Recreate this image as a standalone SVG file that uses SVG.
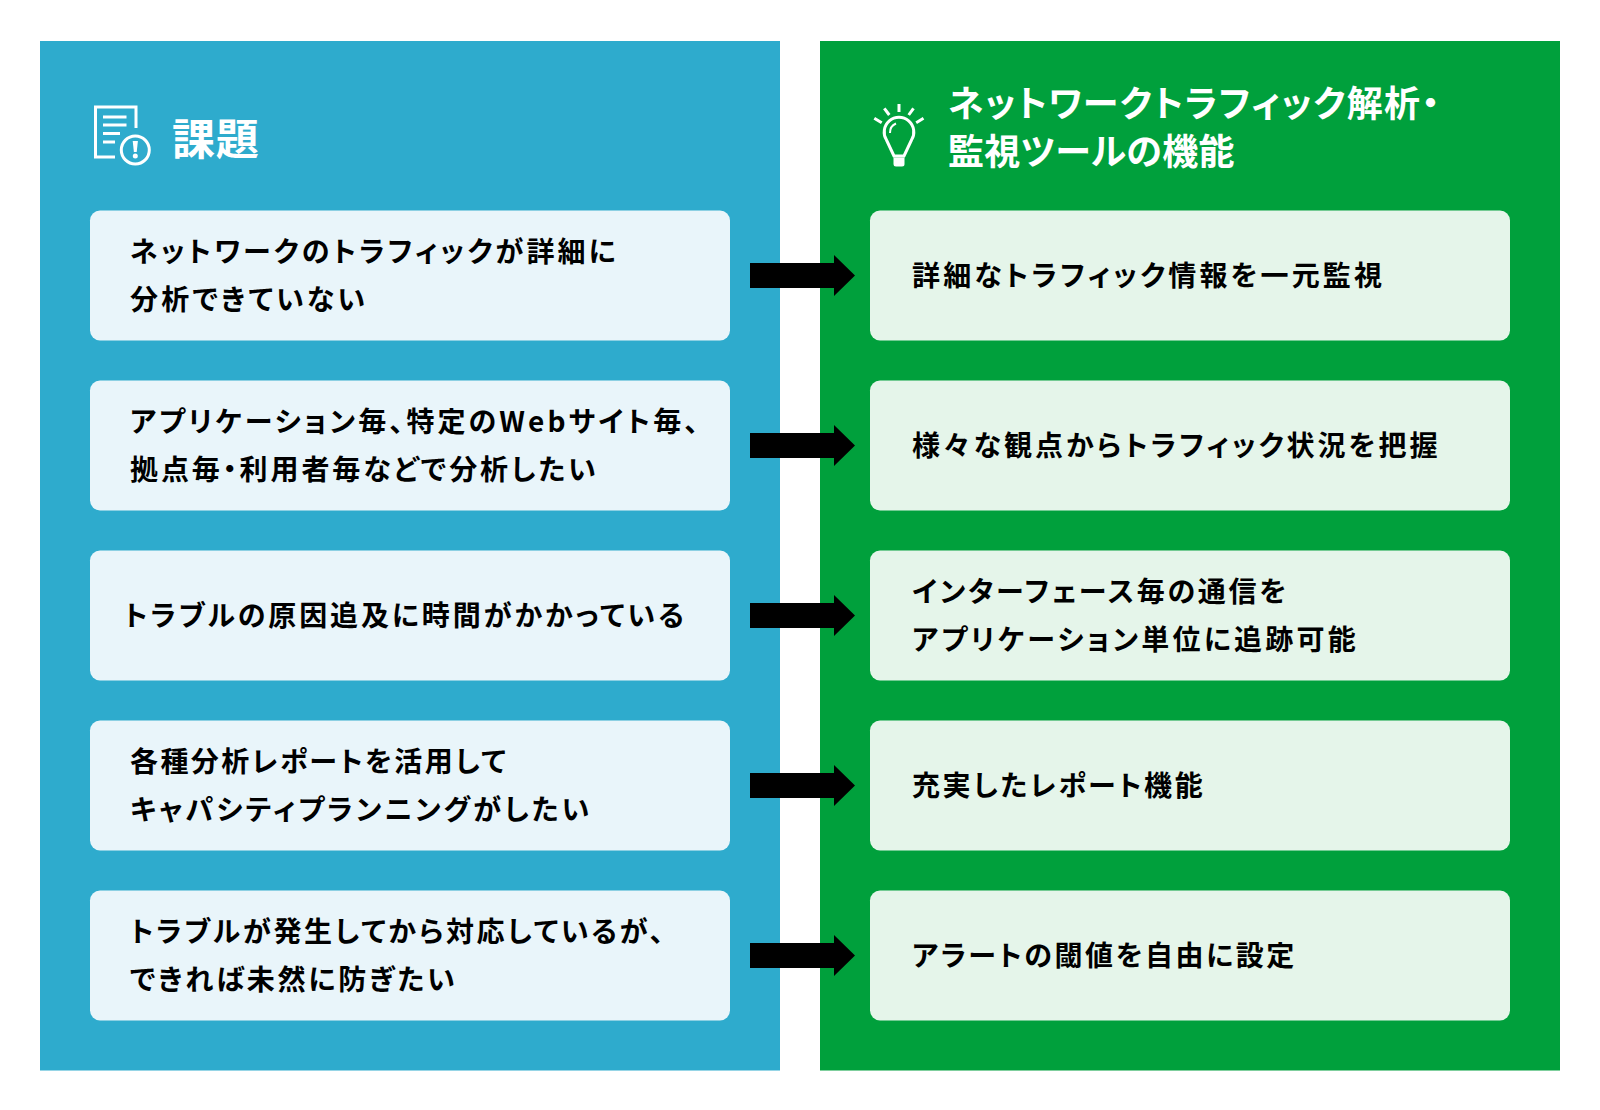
<svg xmlns="http://www.w3.org/2000/svg" width="1600" height="1110" viewBox="0 0 1600 1110">
<style>
text{font-family:"Noto Sans CJK JP","Noto Sans",sans-serif;font-weight:700;font-feature-settings:"palt"}
.t{font-size:28px;letter-spacing:3.1px;fill:#000}
.h{font-size:36px;fill:#fff}
.l{fill:#e9f5fa}.r{fill:#e5f5ea}
.i{fill:none;stroke:#fff;stroke-width:3}
</style>
<defs>
<path id="arr" d="M750 263H834V255L855 275.500L834 296V288H750Z" fill="#000"/>
</defs>
<rect width="1600" height="1110" fill="#fff"/>
<rect x="40" y="41" width="740" height="1029.500" fill="#2eabcd"/>
<rect x="820" y="41" width="740" height="1029.500" fill="#00a03c"/>
<g id="head-left">
<path class="i" d="M115 157H95.500V107H136V128M103 117H126.500M103 125H126.500M103 133.500H120M103 142H115"/>
<circle class="i" cx="135.300" cy="150" r="14"/>
<path d="M132.700 141H137.900L136.700 152H133.900Z" fill="#fff"/><circle cx="135.300" cy="156" r="2.500" fill="#fff"/>
<text class="h" x="172" y="154.500" style="font-size:43px;letter-spacing:.8px">課題</text>
</g>
<g id="head-right">
<path class="i" d="M894 156L886.500 140A14.800 14.800 0 1 1 911.500 140L904 156Z"/>
<path class="i" style="stroke-width:2" d="M890 133A10 10 0 0 1 896 123.500"/>
<path d="M893.500 157.500h11v6.500q0 2.500-2.500 2.500h-6q-2.500 0-2.500-2.500z" fill="#fff"/>
<path class="i" d="M899 104V112M884.300 108.300L889.300 115M913.500 108.300L908.700 115M874.300 118.300L881.700 122.700M923.500 118.300L916.200 122.700"/>
<text class="h" x="948" y="117" style="letter-spacing:1.35px">ネットワークトラフィック解析・</text>
<text class="h" x="948" y="165" style="letter-spacing:.35px">監視ツールの機能</text>
</g>
<g id="n1"><rect class="l" x="90" y="210.500" width="640" height="130" rx="10"/><text class="t" x="130" y="262">ネットワークのトラフィックが詳細に</text><text class="t" x="130" y="310" style="letter-spacing:3.2px">分析できていない</text></g>
<g id="n2"><rect class="l" x="90" y="380.500" width="640" height="130" rx="10"/><text class="t" x="130" y="432">アプリケーション毎、特定のWebサイト毎、</text><text class="t" x="130" y="480" style="letter-spacing:2.9px">拠点毎・利用者毎などで分析したい</text></g>
<g id="n3"><rect class="l" x="90" y="550.500" width="640" height="130" rx="10"/><text class="t" x="124" y="626" style="letter-spacing:2.9px">トラブルの原因追及に時間がかかっている</text></g>
<g id="n4"><rect class="l" x="90" y="720.500" width="640" height="130" rx="10"/><text class="t" x="130" y="772" style="letter-spacing:2.4px">各種分析レポートを活用して</text><text class="t" x="130" y="820" style="letter-spacing:3.04px">キャパシティプランニングがしたい</text></g>
<g id="n5"><rect class="l" x="90" y="890.500" width="640" height="130" rx="10"/><text class="t" x="130" y="942" style="letter-spacing:2.67px">トラブルが発生してから対応しているが、</text><text class="t" x="130" y="990" style="letter-spacing:2.82px">できれば未然に防ぎたい</text></g>
<g id="m1"><rect class="r" x="870" y="210.500" width="640" height="130" rx="10"/><text class="t" x="912" y="286" style="letter-spacing:3.16px">詳細なトラフィック情報を一元監視</text></g>
<g id="m2"><rect class="r" x="870" y="380.500" width="640" height="130" rx="10"/><text class="t" x="912" y="456" style="letter-spacing:3px">様々な観点からトラフィック状況を把握</text></g>
<g id="m3"><rect class="r" x="870" y="550.500" width="640" height="130" rx="10"/><text class="t" x="912" y="602" style="letter-spacing:2.71px">インターフェース毎の通信を</text><text class="t" x="912" y="650" style="letter-spacing:3.24px">アプリケーション単位に追跡可能</text></g>
<g id="m4"><rect class="r" x="870" y="720.500" width="640" height="130" rx="10"/><text class="t" x="912" y="796" style="letter-spacing:2.6px">充実したレポート機能</text></g>
<g id="m5"><rect class="r" x="870" y="890.500" width="640" height="130" rx="10"/><text class="t" x="912" y="966" style="letter-spacing:2.55px">アラートの閾値を自由に設定</text></g>
<g id="connectors">
<use href="#arr"/><use href="#arr" y="170"/><use href="#arr" y="340"/><use href="#arr" y="510"/><use href="#arr" y="680"/>
</g>
</svg>
